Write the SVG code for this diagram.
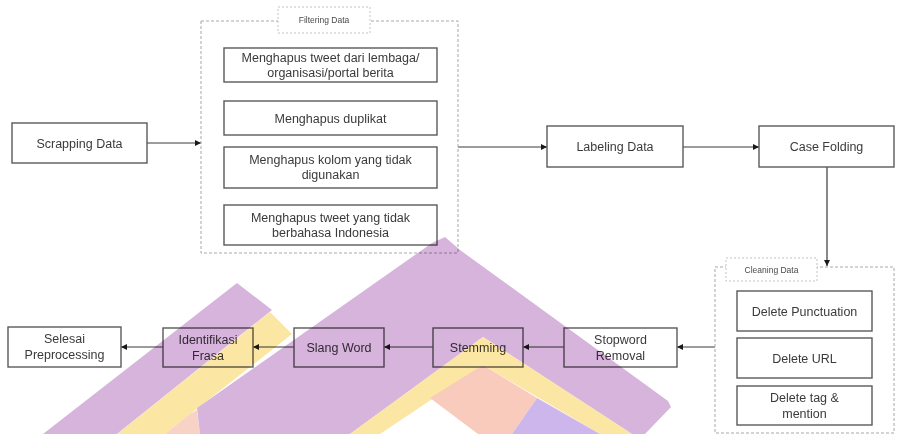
<svg xmlns="http://www.w3.org/2000/svg" width="897" height="434" viewBox="0 0 897 434">
  <defs>
    <style>
      .box { fill: #ffffff; stroke: #5a5a5a; stroke-width: 1.4; }
      .group { fill: none; stroke: #a8a8a8; stroke-width: 1; stroke-dasharray: 3 2; }
      .title { fill: #ffffff; stroke: #c4c4c4; stroke-width: 1; stroke-dasharray: 2 2; }
      .lbl { font-family: "Liberation Sans", Arial, sans-serif; font-size: 12.5px; fill: #3a3a3a; text-anchor: middle; }
      .small { font-family: "Liberation Sans", Arial, sans-serif; font-size: 8.5px; fill: #4a4a4a; text-anchor: middle; }
      .edge { fill: none; stroke: #3a3a3a; stroke-width: 1.2; marker-end: url(#arrow); }
      .mark { mix-blend-mode: multiply; }
    </style>
    <marker id="arrow" viewBox="0 0 10 10" refX="10" refY="5" markerWidth="6" markerHeight="6" markerUnits="userSpaceOnUse" orient="auto">
      <path d="M0,0 L10,5 L0,10 z" fill="#1a1a1a"/>
    </marker>
  </defs>

  <rect width="897" height="434" fill="#ffffff"/>

  <!-- connectors -->
  <g id="connectors">
    <line class="edge" x1="147" y1="143" x2="201" y2="143"/>
    <line class="edge" x1="458" y1="147" x2="547" y2="147"/>
    <line class="edge" x1="683" y1="147" x2="759" y2="147"/>
    <line class="edge" x1="827" y1="167" x2="827" y2="266"/>
    <line class="edge" x1="715" y1="347" x2="677" y2="347"/>
    <line class="edge" x1="564" y1="347" x2="523" y2="347"/>
    <line class="edge" x1="433" y1="347" x2="384" y2="347"/>
    <line class="edge" x1="294" y1="347" x2="253" y2="347"/>
    <line class="edge" x1="163" y1="347" x2="121" y2="347"/>
  </g>

  <g id="scrapping">
    <rect class="box" x="12" y="123" width="135" height="40"/>
    <text class="lbl" x="79.5" y="147.5">Scrapping Data</text>
  </g>

  <g id="filtering">
    <rect class="group" x="201" y="21" width="257" height="232"/>
    <rect class="title" x="278" y="7" width="92" height="26"/>
    <text class="small" x="324" y="23">Filtering Data</text>
  </g>
  <g id="filter-lembaga">
    <rect class="box" x="224" y="48" width="213" height="34"/>
    <text class="lbl" x="330.5" y="62">Menghapus tweet dari lembaga/</text>
    <text class="lbl" x="330.5" y="77">organisasi/portal berita</text>
  </g>
  <g id="filter-duplikat">
    <rect class="box" x="224" y="101" width="213" height="34"/>
    <text class="lbl" x="330.5" y="122.5">Menghapus duplikat</text>
  </g>
  <g id="filter-kolom">
    <rect class="box" x="224" y="147" width="213" height="41"/>
    <text class="lbl" x="330.5" y="164">Menghapus kolom yang tidak</text>
    <text class="lbl" x="330.5" y="179">digunakan</text>
  </g>
  <g id="filter-bahasa">
    <rect class="box" x="224" y="205" width="213" height="40"/>
    <text class="lbl" x="330.5" y="222">Menghapus tweet yang tidak</text>
    <text class="lbl" x="330.5" y="237">berbahasa Indonesia</text>
  </g>

  <g id="labeling">
    <rect class="box" x="547" y="126" width="136" height="41"/>
    <text class="lbl" x="615" y="151">Labeling Data</text>
  </g>

  <g id="case-folding">
    <rect class="box" x="759" y="126" width="135" height="41"/>
    <text class="lbl" x="826.5" y="151">Case Folding</text>
  </g>

  <g id="cleaning">
    <rect class="group" x="715" y="267" width="179" height="166"/>
    <rect class="title" x="726" y="258" width="91" height="23"/>
    <text class="small" x="771.5" y="272.5">Cleaning Data</text>
  </g>
  <g id="clean-punct">
    <rect class="box" x="737" y="291" width="135" height="40"/>
    <text class="lbl" x="804.5" y="315.5">Delete Punctuation</text>
  </g>
  <g id="clean-url">
    <rect class="box" x="737" y="338" width="135" height="40"/>
    <text class="lbl" x="804.5" y="362.5">Delete URL</text>
  </g>
  <g id="clean-tag">
    <rect class="box" x="737" y="386" width="135" height="39"/>
    <text class="lbl" x="804.5" y="402">Delete tag &amp;</text>
    <text class="lbl" x="804.5" y="418">mention</text>
  </g>

  <g id="stopword">
    <rect class="box" x="564" y="328" width="113" height="39"/>
    <text class="lbl" x="620.5" y="343.5">Stopword</text>
    <text class="lbl" x="620.5" y="359.5">Removal</text>
  </g>
  <g id="stemming">
    <rect class="box" x="433" y="328" width="90" height="39"/>
    <text class="lbl" x="478" y="352">Stemming</text>
  </g>
  <g id="slang-word">
    <rect class="box" x="294" y="328" width="90" height="39"/>
    <text class="lbl" x="339" y="352">Slang Word</text>
  </g>
  <g id="identifikasi-frasa">
    <rect class="box" x="163" y="328" width="90" height="39"/>
    <text class="lbl" x="208" y="343.5">Identifikasi</text>
    <text class="lbl" x="208" y="359.5">Frasa</text>
  </g>
  <g id="selesai">
    <rect class="box" x="8" y="327" width="113" height="40"/>
    <text class="lbl" x="64.5" y="343">Selesai</text>
    <text class="lbl" x="64.5" y="359">Preprocessing</text>
  </g>

  <!-- background emblem, blended over the chart -->
  <g id="emblem" class="mark" stroke-linejoin="round">
    <!-- small chevron -->
    <polygon points="43,434 237,283 272,310 117,434" fill="#d6b4dc"/>
    <polygon points="117,434 270,312 292,334 165,434" fill="#fbe6a4"/>
    <polygon points="165,434 190,414 197,410 200,434" fill="#f9d2c6"/>
    <!-- large chevron -->
    <polygon points="200,434 197,408 432,243 445,237 460,250 668,401 671,407 645,434 632,434 483,337 350,434" fill="#d6b4dc"/>
    <polygon points="350,434 483,337 632,434 600,434 483,365 380,434" fill="#fbe6a4"/>
    <polygon points="430,398 483,365 537,398 512,434 478,434" fill="#f8cbbd"/>
    <polygon points="512,434 537,398 600,434" fill="#cdb6ec"/>
  </g>
</svg>
